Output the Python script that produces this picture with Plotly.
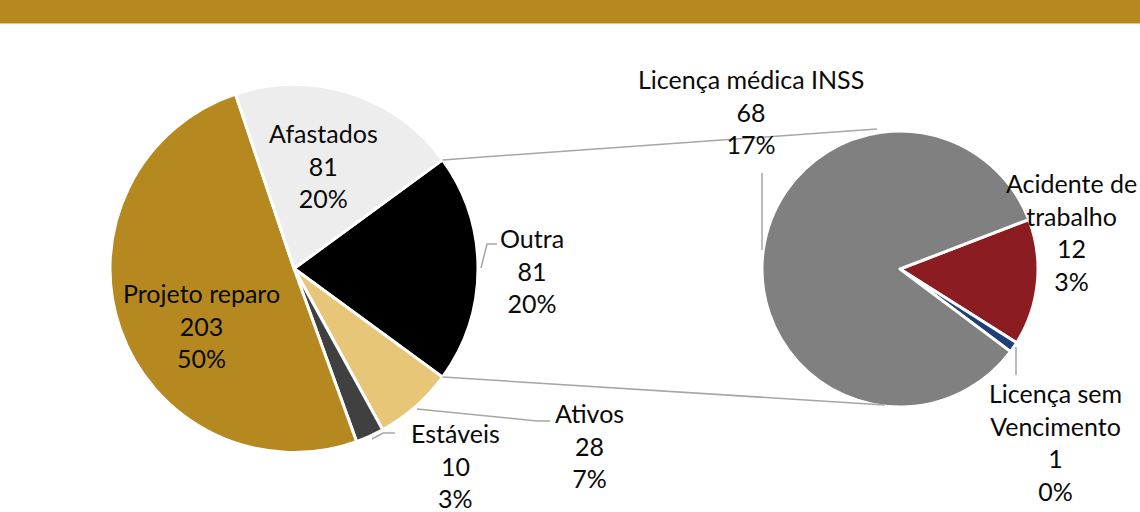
import math
import plotly.graph_objects as go

W, H = 1140, 512

# ---- data ----
left_labels = ["Outra", "Ativos", "Estáveis", "Projeto reparo", "Afastados"]
left_values = [81, 28, 10, 203, 81]
left_pct = ["20%", "7%", "3%", "50%", "20%"]

right_labels = ["Acidente de<br>trabalho", "Licença sem<br>Vencimento", "Licença médica INSS"]
right_values = [12, 1, 68]
right_pct = ["3%", "0%", "17%"]

# ---- style ----
left_colors = ["#000000", "#E8C677", "#404040", "#B5891F", "#EDEDED"]
right_colors = ["#8B1C22", "#1F3E7A", "#808080"]
FONT = "Lato"
TXT = "#0A0A0A"
GRID = "#A6A6A6"
FS = 25

def px(x):
    return x / W

def py(y):
    return 1 - y / H

# pie geometry (pixels)
L_CX, L_CY, L_R = 294, 268.5, 184
R_CX, R_CY, R_R = 900, 269, 138

total_left = sum(left_values)
left_rotation = 90 - 180 * left_values[0] / total_left
right_rotation = 69

fig = go.Figure()
fig.add_trace(go.Pie(
    labels=left_labels, values=left_values, sort=False, direction="clockwise",
    rotation=left_rotation, textinfo="none", hoverinfo="skip",
    marker=dict(colors=left_colors, line=dict(color="white", width=3)),
    domain=dict(x=[px(L_CX - L_R), px(L_CX + L_R)], y=[py(L_CY + L_R), py(L_CY - L_R)]),
))
fig.add_trace(go.Pie(
    labels=right_labels, values=right_values, sort=False, direction="clockwise",
    rotation=right_rotation, textinfo="none", hoverinfo="skip",
    marker=dict(colors=right_colors, line=dict(color="white", width=3)),
    domain=dict(x=[px(R_CX - R_R), px(R_CX + R_R)], y=[py(R_CY + R_R), py(R_CY - R_R)]),
))

# label placement (pixel centres of label blocks)
left_pos = [(532, 270), (589, 445), (455, 465), (201, 325), (323, 165)]
right_pos = [(1071, 232), (1055, 442), (751, 111)]

annotations = []
for lab, val, pct, (x, y) in zip(left_labels, left_values, left_pct, left_pos):
    annotations.append(dict(x=px(x), y=py(y), xref="paper", yref="paper",
                            text=f"{lab}<br>{val}<br>{pct}", showarrow=False,
                            xanchor="center", yanchor="middle", align="center",
                            font=dict(family=FONT, size=FS, color=TXT)))
for lab, val, pct, (x, y) in zip(right_labels, right_values, right_pct, right_pos):
    annotations.append(dict(x=px(x), y=py(y), xref="paper", yref="paper",
                            text=f"{lab}<br>{val}<br>{pct}", showarrow=False,
                            xanchor="center", yanchor="middle", align="center",
                            font=dict(family=FONT, size=FS, color=TXT)))

shapes = []
# header bar
shapes.append(dict(type="rect", xref="paper", yref="paper", x0=0, x1=1, y0=py(23), y1=1.02,
                   fillcolor="#B5891F", line=dict(width=0), layer="below"))
shapes.append(dict(type="line", xref="paper", yref="paper", x0=0, x1=1, y0=py(23.5), y1=py(23.5),
                   line=dict(color="#E3C57A", width=1)))

# connectors between the pies (from the edges of the "Outra" slice)
a0 = math.radians(left_rotation)
a1 = math.radians(left_rotation + 360 * left_values[0] / total_left)
p0 = (L_CX + L_R * math.sin(a0), L_CY - L_R * math.cos(a0))
p1 = (L_CX + L_R * math.sin(a1), L_CY - L_R * math.cos(a1))
q0 = (877, 129)
q1 = (885, 405)
for (xa, ya), (xb, yb) in [(p0, q0), (p1, q1)]:
    shapes.append(dict(type="line", xref="paper", yref="paper",
                       x0=px(xa), y0=py(ya), x1=px(xb), y1=py(yb),
                       line=dict(color=GRID, width=1.5)))

# leader lines
leaders = [
    [(481, 268), (487, 244), (497, 244)],      # Outra
    [(417, 409), (537, 421), (550, 421)],      # Ativos
    [(372, 439), (383, 433), (395, 433)],      # Estáveis
    [(762, 173), (762, 250)],                  # Licença médica INSS
    [(1016, 347), (1016, 375)],                # Licença sem Vencimento
]
for pts in leaders:
    path = "M " + " L ".join(f"{px(x)},{py(y)}" for x, y in pts)
    shapes.append(dict(type="path", xref="paper", yref="paper", path=path,
                       line=dict(color=GRID, width=1.5)))

fig.update_layout(
    width=W, height=H, margin=dict(l=0, r=0, t=0, b=0),
    paper_bgcolor="white", plot_bgcolor="white", showlegend=False,
    annotations=annotations, shapes=shapes,
    font=dict(family=FONT, size=FS, color=TXT),
)

fig.write_html(
    "out.html",
    config={"displayModeBar": False},
    post_script="document.body.style.margin='0';document.body.style.padding='0';document.body.style.overflow='hidden';",
)
